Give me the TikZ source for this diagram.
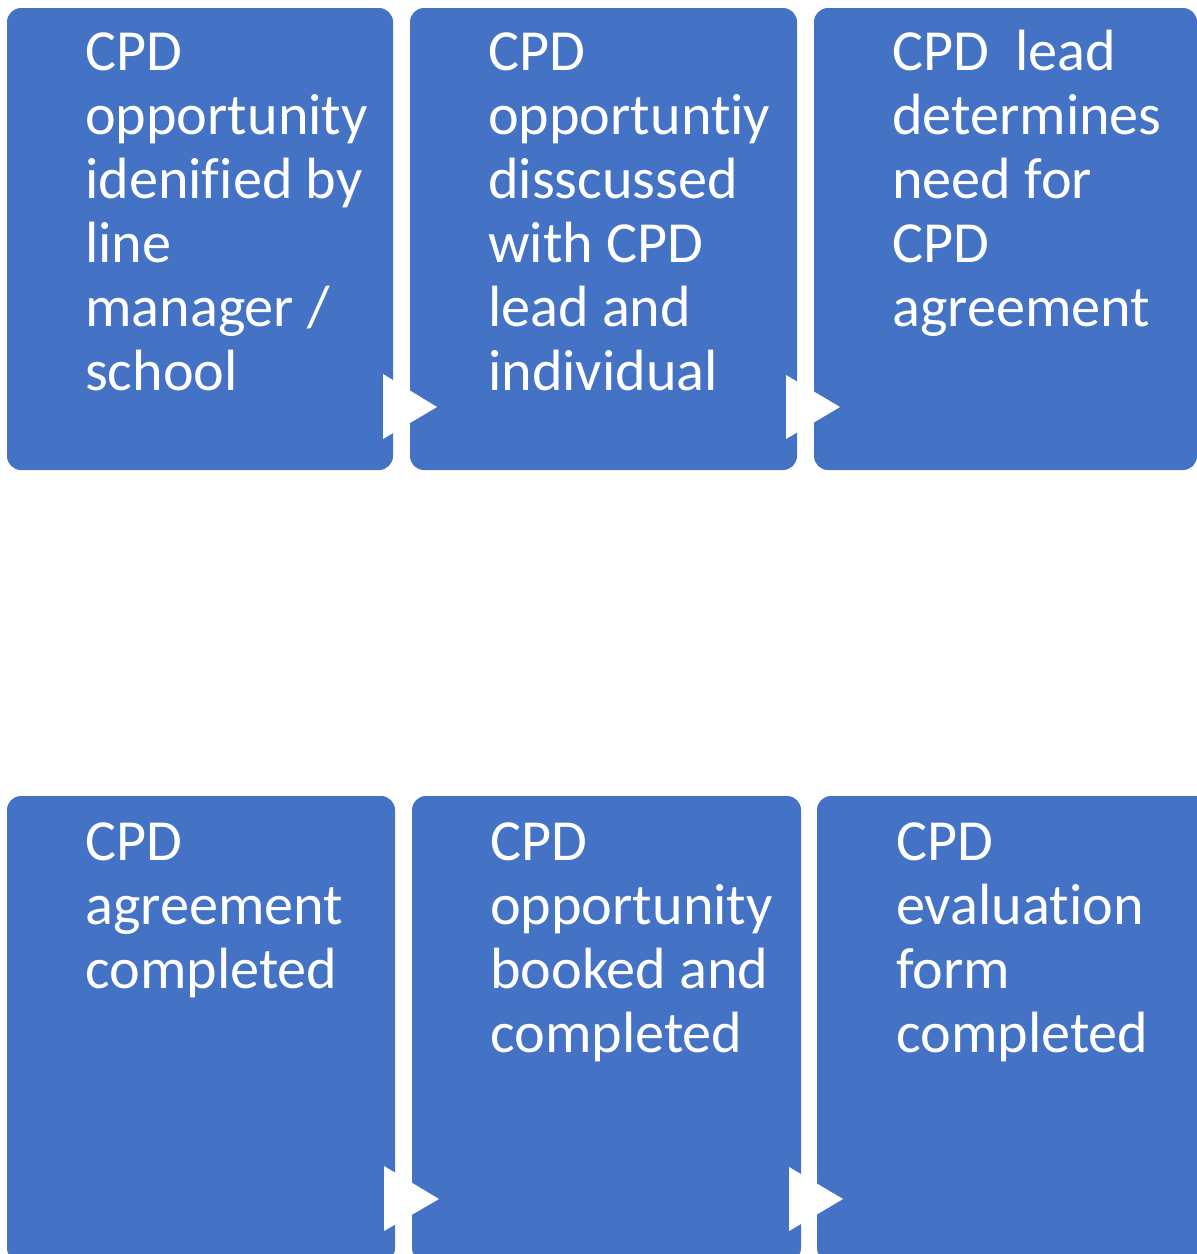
\documentclass[tikz,border=0pt]{standalone}
\usepackage{fontspec}
\setmainfont{Carlito}[Ligatures=NoCommon]
\usetikzlibrary{calc}
\definecolor{boxblue}{RGB}{68,114,196}
\tikzset{
  stepbox/.style={fill=boxblue, draw=none, rounded corners=14pt, inner sep=0pt},
  steptext/.style={anchor=base west, inner sep=0pt, text=white, font=\fontsize{58.2}{64}\selectfont},
  flowtri/.style={fill=white, draw=none}
}
\newcommand{\boxlines}[1]{\begin{tabular}[t]{@{}l@{}}#1\end{tabular}}
\begin{document}
\begin{tikzpicture}[x=1pt,y=-1pt]
\path[use as bounding box] (0,0) rectangle (1197,1254);
\clip (0,0) rectangle (1197,1254);
% boxes
\path[stepbox] (7,8) rectangle (393,470);
\node[inner sep=0] (b1) at (200,239) {};
\path[stepbox] (410,8) rectangle (797,470);
\node[inner sep=0] (b2) at (603.5,239) {};
\path[stepbox] (814,8) rectangle (1197,470);
\node[inner sep=0] (b3) at (1005.5,239) {};
\path[stepbox] (7,796) rectangle (395,1262);
\node[inner sep=0] (b4) at (201,1029) {};
\path[stepbox] (412,796) rectangle (801,1262);
\node[inner sep=0] (b5) at (606.5,1029) {};
\path[stepbox] (817,796) rectangle (1210,1262);
\node[inner sep=0] (b6) at (1013.5,1029) {};
% texts
\node[steptext] (t1) at (85,70) {\boxlines{CPD\\opportunity\\idenified by\\line\\manager /\\school}};
\node[steptext] (t2) at (488,70) {\boxlines{CPD\\opportuntiy\\disscussed\\with CPD\\lead and\\individual}};
\node[steptext] (t3) at (892,70) {\boxlines{CPD\ \ lead\\determines\\need for\\CPD\\agreement}};
\node[steptext] (t4) at (85,860) {\boxlines{CPD\\agreement\\completed}};
\node[steptext] (t5) at (490,860) {\boxlines{CPD\\opportunity\\booked and\\completed}};
\node[steptext] (t6) at (896,860) {\boxlines{CPD\\evaluation\\form\\completed}};
% arrows
\fill[flowtri] (383,374) -- (383,439) -- (437,407) -- cycle;
\fill[flowtri] (786,375) -- (786,439) -- (840,407) -- cycle;
\fill[flowtri] (384,1166) -- (384,1231) -- (439,1199) -- cycle;
\fill[flowtri] (789,1167) -- (789,1231) -- (843,1199) -- cycle;
\end{tikzpicture}
\end{document}
